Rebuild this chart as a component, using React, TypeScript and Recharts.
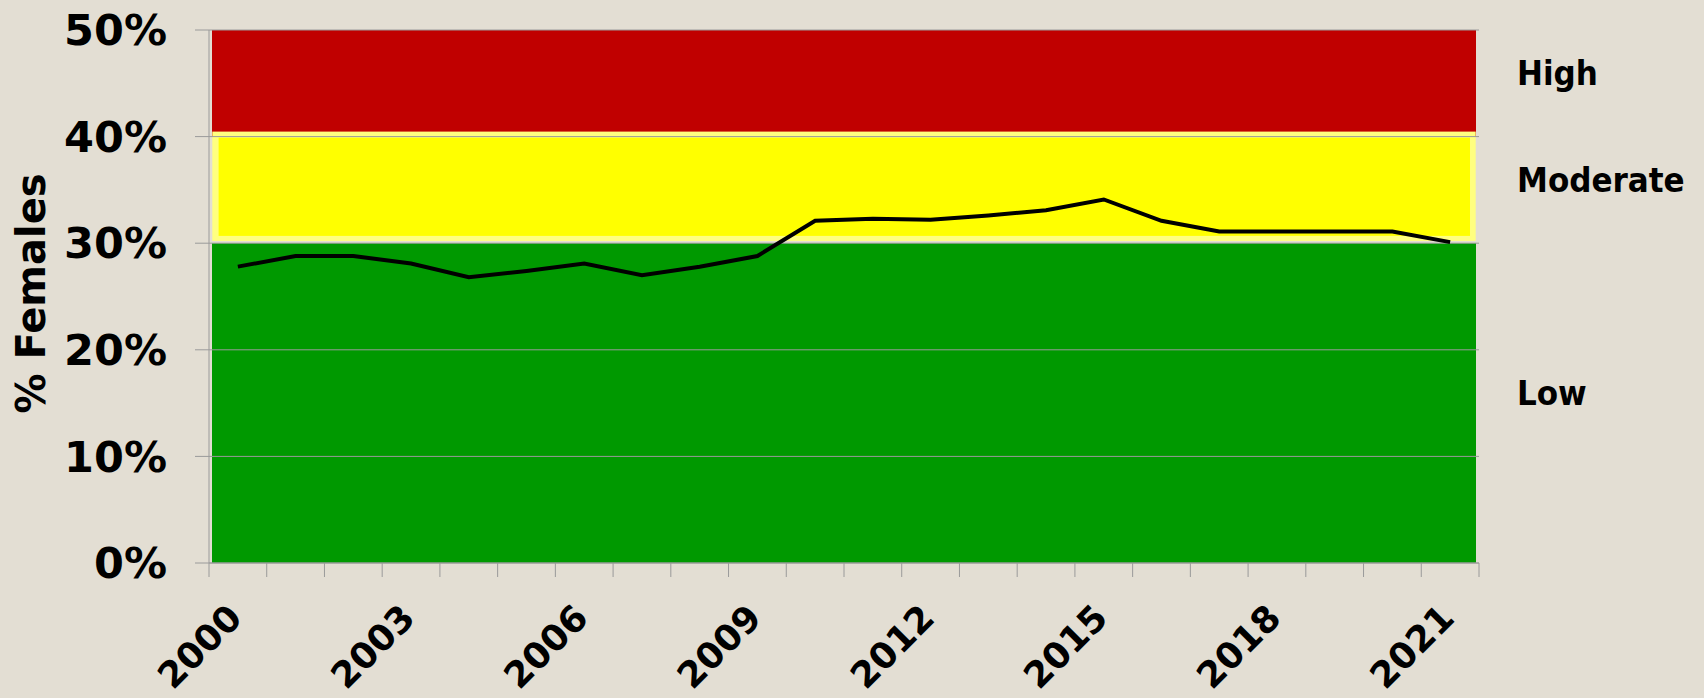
import { LineChart, Line, XAxis, YAxis, ReferenceArea, ReferenceLine } from "recharts";

const years = [
  2000, 2001, 2002, 2003, 2004, 2005, 2006, 2007, 2008, 2009, 2010,
  2011, 2012, 2013, 2014, 2015, 2016, 2017, 2018, 2019, 2020, 2021,
];
const femalePct = [
  27.8, 28.8, 28.8, 28.1, 26.8, 27.4, 28.1, 27.0, 27.8, 28.8, 32.1,
  32.3, 32.2, 32.6, 33.1, 34.1, 32.1, 31.1, 31.1, 31.1, 31.1, 30.1,
];
const yTicks = [0, 10, 20, 30, 40, 50];
const labelledYears = [2000, 2003, 2006, 2009, 2012, 2015, 2018, 2021];
const zoneNames = ["Low", "Moderate", "High"];
const zoneBounds = [0, 30, 40, 50];

const data = years.map((year, i) => ({ year, pct: femalePct[i] }));

const W = 1704;
const H = 698;
const PLOT_LEFT = 209;
const PLOT_RIGHT = 1479;
const PLOT_TOP = 30;
const X_AXIS_H = 135;
const PLOT_BOTTOM = H - X_AXIS_H;
const STEP = (PLOT_RIGHT - PLOT_LEFT) / years.length;

const BG = "#e3ded3";
const AXIS = "#9a9a9a";
const RED = "#c00000";
const YELLOW = "#ffff00";
const PALE = "#ffff80";
const GREEN = "#009900";
const zoneColors = [GREEN, YELLOW, RED];
const FONT = "'DejaVu Sans', Verdana, sans-serif";

// reference areas stop at the first/last category centre, so widen them to the plot edges
const bandShape = (props: any) => {
  const { y, height, fill } = props;
  const x = props.x - STEP / 2;
  const width = props.width + STEP;
  if (fill === YELLOW) {
    return (
      <g>
        <rect x={x + 3.3} y={y - 5} width={width - 6.6} height={height + 2.7} fill={PALE} />
        <rect x={x + 9.6} y={y + 1} width={width - 18.6} height={height - 8.3} fill={YELLOW} />
      </g>
    );
  }
  return <rect x={x + 3} y={y} width={width - 6} height={height} fill={fill} />;
};

const zoneLabel = (name: string) => (props: any) => {
  const vb = props.viewBox || {};
  const lx = vb.x + vb.width + STEP / 2 + 38;
  const ly = vb.y + vb.height / 2 - 10;
  return (
    <text
      x={lx}
      y={ly}
      dominantBaseline="central"
      textAnchor="start"
      fontSize={34.5}
      fontWeight="bold"
      fontFamily="'DejaVu Sans Condensed', 'DejaVu Sans', sans-serif"
      fill="#000"
    >
      {name}
    </text>
  );
};

const XTick = (props: any) => {
  const { x, y, payload, index } = props;
  const show = labelledYears.includes(Number(payload.value));
  const tx = x + 6;
  const ty = y + 57;
  return (
    <g>
      <line x1={x - STEP / 2} x2={x - STEP / 2} y1={y} y2={y + 14} stroke={AXIS} />
      {index === years.length - 1 && (
        <line x1={x + STEP / 2} x2={x + STEP / 2} y1={y} y2={y + 14} stroke={AXIS} />
      )}
      {show && (
        <text
          x={tx}
          y={ty}
          transform={`rotate(-45 ${tx} ${ty})`}
          textAnchor="end"
          fontSize={36}
          fontWeight="bold"
          fontFamily={FONT}
          fill="#000"
        >
          {payload.value}
        </text>
      )}
    </g>
  );
};

const yLabel = () => {
  const lx = 45;
  const ly = (PLOT_TOP + PLOT_BOTTOM) / 2 - 3;
  return (
    <text
      x={lx}
      y={ly}
      transform={`rotate(-90 ${lx} ${ly})`}
      textAnchor="middle"
      fontSize={40}
      fontWeight="bold"
      fontFamily={FONT}
      fill="#000"
    >
      % Females
    </text>
  );
};

export default function App() {
  return (
    <div style={{ width: W, height: H, background: BG }}>
      <style>{`body { margin: 0; background: ${BG}; }`}</style>
      <LineChart
        width={W}
        height={H}
        data={data}
        margin={{ top: PLOT_TOP, right: W - PLOT_RIGHT, left: 0, bottom: 0 }}
        style={{ fontFamily: FONT }}
      >
        <XAxis
          dataKey="year"
          interval={0}
          height={X_AXIS_H}
          padding={{ left: STEP / 2, right: STEP / 2 }}
          axisLine={{ stroke: AXIS }}
          tickLine={false}
          tickSize={0}
          tickMargin={0}
          tick={<XTick />}
        />
        <YAxis
          domain={[0, 50]}
          ticks={yTicks}
          width={PLOT_LEFT}
          tickFormatter={(v) => `${v}%`}
          axisLine={{ stroke: AXIS }}
          tickLine={{ stroke: AXIS }}
          tickSize={14}
          tickMargin={28}
          tick={{ fontSize: 43, fontWeight: "bold", fill: "#000", fontFamily: FONT }}
          label={yLabel}
        />
        {[0, 2, 1].map((i) => (
          <ReferenceArea
            key={zoneNames[i]}
            y1={zoneBounds[i]}
            y2={zoneBounds[i + 1]}
            fill={zoneColors[i]}
            fillOpacity={1}
            stroke="none"
            shape={bandShape}
            label={zoneLabel(zoneNames[i])}
          />
        ))}
        {yTicks.map((t) => (
          <ReferenceLine key={t} y={t} stroke={AXIS} strokeWidth={1} />
        ))}
        <Line
          type="linear"
          dataKey="pct"
          stroke="#000"
          strokeWidth={4}
          dot={false}
          isAnimationActive={false}
        />
      </LineChart>
    </div>
  );
}
